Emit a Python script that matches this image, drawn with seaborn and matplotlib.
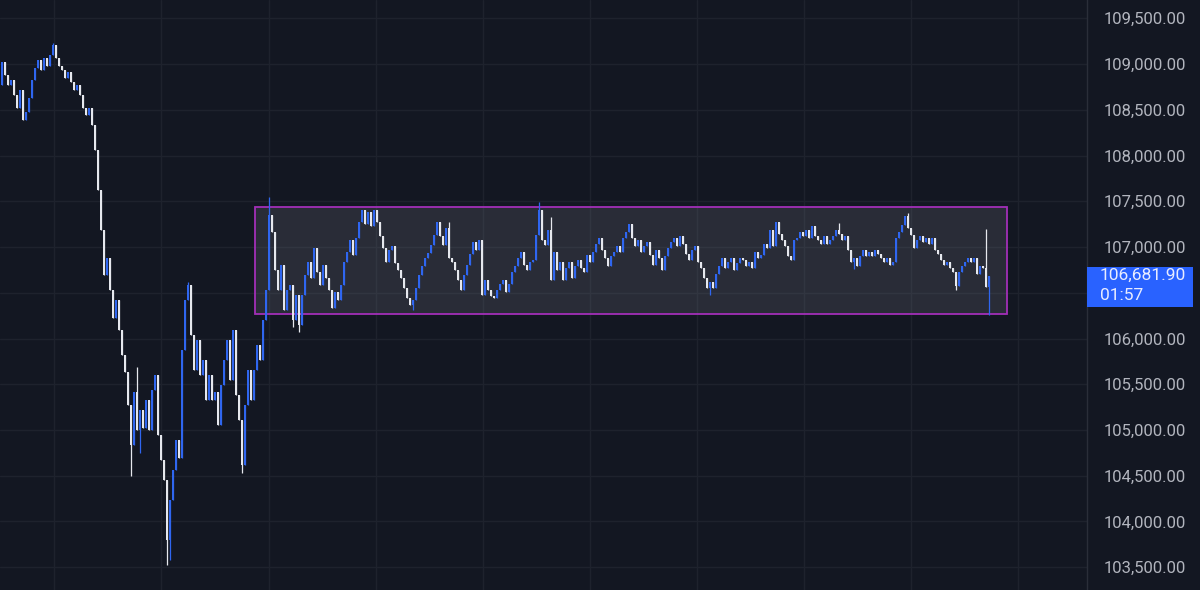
import matplotlib
matplotlib.use("Agg")
import matplotlib.pyplot as plt
import matplotlib.transforms as mtransforms
from matplotlib.patches import Rectangle, FancyBboxPatch
import numpy as np
import pandas as pd
import seaborn as sns

# --- données (clôtures des bougies, dans l'ordre) ---
first_open = 108770
closes = [
    109020, 108880, 108770, 108830, 108660, 108520, 108720, 108390, 108480, 108630,
    108830, 108960, 109040, 108940, 109070, 108980, 109100, 109210, 109070, 108980,
    108940, 108850, 108910, 108800, 108720, 108770, 108660, 108520, 108440, 108520,
    108330, 108060, 107620, 107190, 106690, 106880, 106530, 106220, 106420, 106090,
    105820, 105630, 105270, 104840, 105420, 105000, 105220, 105020, 105330, 105000,
    105440, 105600, 104950, 104670, 104450, 103800, 104240, 104560, 104890, 104690,
    105870, 106420, 106590, 106040, 105660, 105980, 105600, 105770, 105330, 105600,
    105330, 105420, 105050, 105490, 105770, 105980, 105550, 106090, 105380, 105110,
    104620, 105270, 105660, 105330, 105660, 105930, 105770, 106200, 106530, 107350,
    107160, 106750, 106530, 106800, 106310, 106530, 106590, 106200, 106480, 106150,
    106480, 106690, 106840, 106660, 106990, 106730, 106590, 106800, 106660, 106530,
    106330, 106510, 106420, 106590, 106840, 106950, 107080, 106910, 107100, 107270,
    107400, 107250, 107380, 107230, 107400, 107270, 107120, 106990, 106840, 106970,
    107010, 106820, 106750, 106660, 106550, 106440, 106370, 106420, 106550, 106690,
    106790, 106880, 106930, 107020, 107130, 107270, 107120, 107020, 107210, 106880,
    106840, 106750, 106640, 106530, 106690, 106800, 106920, 107050, 106970, 107080,
    106480, 106640, 106530, 106470, 106440, 106530, 106600, 106640, 106510, 106600,
    106730, 106790, 106880, 106950, 106800, 106750, 106840, 106860, 107130, 107400,
    107080, 107020, 107190, 106640, 106950, 106750, 106840, 106640, 106770, 106840,
    106660, 106790, 106860, 106770, 106730, 106910, 106840, 106950, 107030, 107100,
    106970, 106880, 106790, 106900, 106950, 107010, 106950, 107100, 107160, 107250,
    107100, 107010, 107080, 106950, 107010, 107050, 106910, 106800, 106970, 106880,
    106750, 106900, 106990, 107050, 107100, 107010, 107120, 107030, 106920, 106860,
    106970, 107010, 106840, 106770, 106660, 106550, 106620, 106550, 106710, 106790,
    106880, 106770, 106840, 106880, 106750, 106820, 106880, 106860, 106790, 106840,
    106770, 106950, 106880, 106910, 107030, 106990, 107190, 107010, 107270, 107140,
    107080, 107010, 106900, 106860, 107080, 107100, 107160, 107120, 107190, 107100,
    107230, 107120, 107080, 107030, 107120, 107030, 107080, 107120, 107190, 107140,
    107080, 107120, 106970, 106840, 106880, 106790, 106900, 106970, 106900, 106950,
    106900, 106970, 106920, 106880, 106840, 106880, 106800, 106840, 107100, 107160,
    107240, 107340, 107210, 107130, 106990, 107080, 107120, 107050, 107100, 107030,
    107100, 106970, 106920, 106860, 106800, 106840, 106770, 106730, 106570, 106730,
    106790, 106840, 106880, 106840, 106880, 106710, 106790, 106770, 106560, 106681.90,
]

# mèches visibles (indice de bougie -> extrême)
wick_highs = {17: 109230, 45: 105690, 62: 106620, 89: 107550, 149: 107270,
              160: 107080, 179: 107490, 183: 107330, 279: 107260, 302: 107370,
              328: 107200}
wick_lows = {43: 104500, 46: 104750, 55: 103520, 56: 103580, 80: 104530,
             97: 106130, 99: 106070, 137: 106310, 236: 106480, 284: 106760,
             318: 106530, 329: 106260}

# zone de range (rectangle)
range_start, range_end = 84.3, 335
range_low, range_high = 106270, 107440

price_ticks = list(range(103500, 110000, 500))
hidden_tick = 106500  # caché sous l'étiquette du dernier prix
time_grid = [17.3, 53.0, 89.0, 124.7, 160.3, 196.0, 231.7, 267.3, 303.0, 338.7]
last_price = 106681.90
countdown = "01:57"

# --- style ---
bg = "#131722"
grid_col = "#1e222d"
up_col = "#2f66f0"
down_col = "#e6e8ee"

sns.set_theme(style="dark", rc={"axes.facecolor": bg, "figure.facecolor": bg,
                                "axes.grid": False})
plt.rcParams['font.family'] = ['Roboto', 'DejaVu Sans']

df = pd.DataFrame({"close": closes})
df["open"] = [first_open] + closes[:-1]
df["high"] = df[["open", "close"]].max(axis=1)
df["low"] = df[["open", "close"]].min(axis=1)
for k, v in wick_highs.items():
    df.loc[k, "high"] = v
for k, v in wick_lows.items():
    df.loc[k, "low"] = v
df["up"] = df["close"] >= df["open"]
df["color"] = np.where(df["up"], up_col, down_col)
idx = np.arange(len(df))

fig = plt.figure(figsize=(12, 5.9), dpi=100)
ax = fig.add_axes([0, 0, 1087 / 1200, 1])
ax.set_facecolor(bg)

# grille
for p in price_ticks:
    ax.axhline(p, color=grid_col, lw=1, zorder=0)
for t in time_grid:
    ax.axvline(t, color=grid_col, lw=1, zorder=0)

# rectangle du range
ax.add_patch(Rectangle((range_start, range_low), range_end - range_start,
                       range_high - range_low, facecolor="#787b86", alpha=0.22,
                       edgecolor="none", zorder=1))
ax.add_patch(Rectangle((range_start, range_low), range_end - range_start,
                       range_high - range_low, facecolor="none",
                       edgecolor="#a22fb8", lw=1.3, zorder=1.5))

# bougies
ax.vlines(idx, df["low"], df["high"], colors=df["color"], lw=0.9, zorder=2)
body_bottom = df[["open", "close"]].min(axis=1)
body_h = (df["close"] - df["open"]).abs().clip(lower=12)
ax.bar(idx, body_h, bottom=body_bottom, width=0.75, color=df["color"],
       linewidth=0, zorder=3)

ax.set_xlim(-0.67, 361.67)
ax.set_ylim(103251, 109700)
ax.set_xticks([])
ax.yaxis.tick_right()
ax.set_yticks(price_ticks)
ax.set_yticklabels(["" if p == hidden_tick else f"{p:,.2f}" for p in price_ticks])
ax.tick_params(axis="y", length=0, pad=12, labelcolor="#b2b5be", labelsize=12)
for s in ["top", "left", "bottom"]:
    ax.spines[s].set_visible(False)
ax.spines["right"].set_color("#2a2e39")
ax.spines["right"].set_linewidth(1)

# étiquette du dernier prix
trans = mtransforms.blended_transform_factory(ax.transAxes, ax.transData)
ax.add_patch(Rectangle((1.0, last_price - 340), 106 / 1087, 440,
                       transform=trans, facecolor="#2962ff", edgecolor="none",
                       clip_on=False, zorder=5))
ax.text(1.0 + 13 / 1087, last_price + 5, f"{last_price:,.2f}", transform=trans,
        color="#e8ecff", fontsize=12.5, va="center", ha="left", zorder=6,
        clip_on=False)
ax.text(1.0 + 13 / 1087, last_price - 210, countdown, transform=trans,
        color="#e8ecff", fontsize=12.5, va="center", ha="left", zorder=6,
        clip_on=False)

fig.savefig("out.png", dpi=100, facecolor=bg)
